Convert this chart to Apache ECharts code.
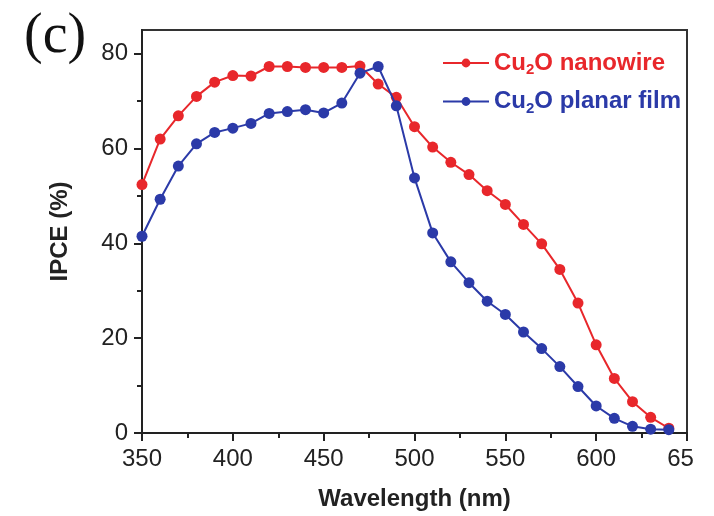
<!DOCTYPE html>
<html>
<head>
<meta charset="utf-8">
<script src="https://cdn.jsdelivr.net/npm/echarts@6/dist/echarts.min.js"></script>
<style>
  html, body { margin: 0; padding: 0; background: #fff; }
  #chart { width: 714px; height: 516px; }
</style>
</head>
<body>
<div id="chart"></div>
<script>
// Wavelength grid (nm)
const wavelengths = [350, 360, 370, 380, 390, 400, 410, 420, 430, 440, 450, 460, 470, 480, 490,
                     500, 510, 520, 530, 540, 550, 560, 570, 580, 590, 600, 610, 620, 630, 640];
// IPCE (%) for the nanowire photocathode
const nanowireIPCE = [52.4, 62.0, 66.9, 71.0, 74.0, 75.4, 75.3, 77.3, 77.3, 77.1, 77.1, 77.1, 77.4, 73.6, 70.8,
                      64.6, 60.3, 57.1, 54.5, 51.1, 48.2, 44.0, 39.9, 34.5, 27.4, 18.6, 11.5, 6.6, 3.3, 1.0];
// IPCE (%) for the planar film photocathode
const planarIPCE = [41.5, 49.3, 56.3, 61.0, 63.4, 64.3, 65.3, 67.4, 67.8, 68.2, 67.5, 69.6, 75.9, 77.3, 69.0,
                    53.8, 42.2, 36.1, 31.7, 27.8, 25.0, 21.3, 17.8, 14.0, 9.8, 5.7, 3.1, 1.4, 0.8, 0.7];
// Axis tick labels
const xTickValues = [350, 400, 450, 500, 550, 600, 650];
const xTickLabels = ['350', '400', '450', '500', '550', '600', '65'];
const yTickValues = [0, 20, 40, 60, 80];
const yMinorValues = [10, 30, 50, 70];

const RED = '#e8272b';
const BLUE = '#2b3aa8';
const INK = '#222';
const SANS = '"Liberation Sans", Arial, Helvetica, sans-serif';

const chart = echarts.init(document.getElementById('chart'));

const pairs = (ys) => wavelengths.map((x, i) => [x, ys[i]]);

chart.setOption({
  animation: false,
  backgroundColor: '#fff',
  grid: {
    left: 142, right: 27, top: 30, bottom: 82,
    show: true, borderColor: '#333', borderWidth: 2, backgroundColor: 'transparent'
  },
  xAxis: {
    type: 'value', min: 350, max: 650, interval: 50,
    name: 'Wavelength (nm)', nameLocation: 'middle', nameGap: 54,
    nameTextStyle: { fontFamily: SANS, fontSize: 24, fontWeight: 'bold', color: INK },
    axisLine: { show: true, lineStyle: { color: INK, width: 2 } },
    axisTick: { show: true, inside: false, length: 8, lineStyle: { color: INK, width: 2 } },
    minorTick: { show: true, splitNumber: 2, length: 5, lineStyle: { color: INK, width: 2 } },
    splitLine: { show: false },
    axisLabel: {
      margin: 14, fontFamily: SANS, fontSize: 24, color: INK,
      formatter: (v) => {
        const i = xTickValues.indexOf(v);
        const t = i >= 0 ? xTickLabels[i] : '';
        return t.length === 2 ? '{cut|' + t + '}' : t;
      },
      rich: { cut: { fontFamily: SANS, fontSize: 24, color: INK, padding: [0, 13, 0, 0] } }
    }
  },
  yAxis: [{
    type: 'value', min: 0, max: 85, interval: 20,
    name: 'IPCE (%)', nameLocation: 'middle', nameGap: 70, nameRotate: 90,
    nameTextStyle: { fontFamily: SANS, fontSize: 24, fontWeight: 'bold', color: INK },
    axisLine: { show: true, lineStyle: { color: INK, width: 2 } },
    axisTick: { show: true, inside: false, length: 8, customValues: yTickValues, lineStyle: { color: INK, width: 2 } },
    splitLine: { show: false },
    axisLabel: { margin: 14, fontFamily: SANS, fontSize: 24, color: INK, customValues: yTickValues }
  }, {
    type: 'value', min: 0, max: 85, position: 'left',
    axisLine: { show: false },
    axisTick: { show: true, inside: false, length: 5, customValues: yMinorValues, lineStyle: { color: INK, width: 2 } },
    axisLabel: { show: false },
    splitLine: { show: false }
  }],
  legend: {
    orient: 'vertical', left: 442, top: 51, itemGap: 12, padding: 0,
    itemWidth: 46, itemHeight: 11,
    data: [{ name: 'nanowire' }, { name: 'planar' }],
    formatter: (name) => name === 'nanowire'
      ? '{r|Cu}{rs|2}{r|O nanowire}'
      : '{b|Cu}{bs|2}{b|O planar film}',
    textStyle: {
      fontFamily: SANS, fontSize: 24, fontWeight: 'bold',
      rich: {
        r: { fontFamily: SANS, fontSize: 24, fontWeight: 'bold', color: RED },
        rs: { fontFamily: SANS, fontSize: 15, fontWeight: 'bold', color: RED, verticalAlign: 'bottom', padding: [14, 0, 0, 0] },
        b: { fontFamily: SANS, fontSize: 24, fontWeight: 'bold', color: BLUE },
        bs: { fontFamily: SANS, fontSize: 15, fontWeight: 'bold', color: BLUE, verticalAlign: 'bottom', padding: [14, 0, 0, 0] }
      }
    }
  },
  graphic: [{
    type: 'text', left: 24, top: 9,
    style: { text: '(c)', font: '56px "Liberation Serif", "Times New Roman", serif', fill: '#111' }
  }],
  series: [{
    name: 'nanowire', type: 'line', data: pairs(nanowireIPCE),
    color: RED, symbol: 'circle', symbolSize: 11,
    lineStyle: { color: RED, width: 2 }, itemStyle: { color: RED }, z: 3
  }, {
    name: 'planar', type: 'line', data: pairs(planarIPCE),
    color: BLUE, symbol: 'circle', symbolSize: 11,
    lineStyle: { color: BLUE, width: 2 }, itemStyle: { color: BLUE }, z: 4
  }]
});
</script>
</body>
</html>
